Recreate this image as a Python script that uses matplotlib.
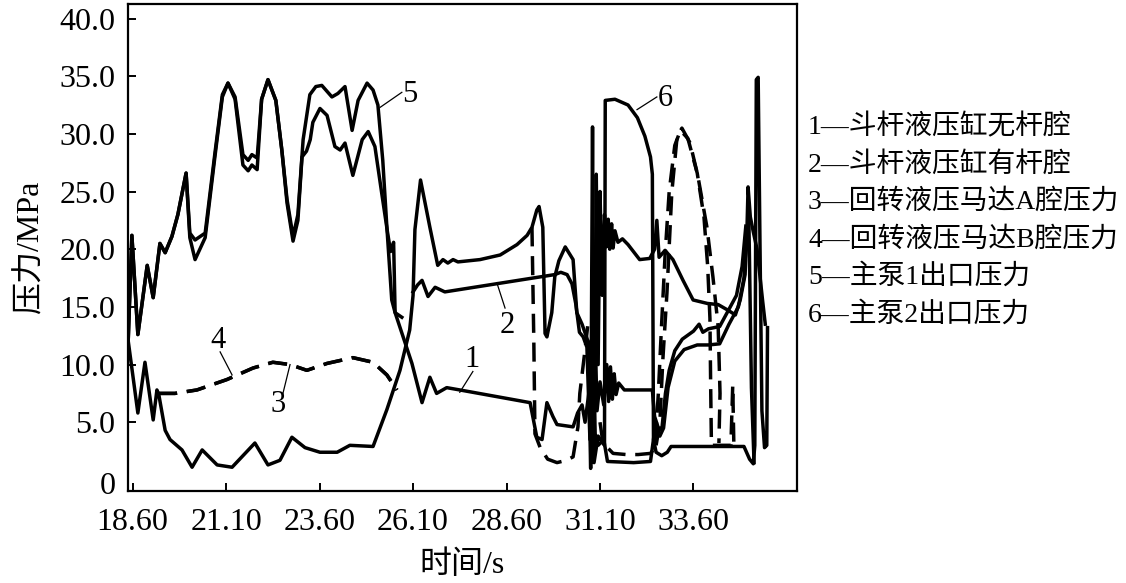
import matplotlib
matplotlib.use("Agg")
import matplotlib.pyplot as plt
import matplotlib.transforms as mtransforms
import numpy as np

plt.rcParams['font.family'] = ['Liberation Serif', 'Noto Sans CJK SC', 'DejaVu Sans']

nan = np.nan

# time (s) / pressure (MPa), nan = gap in the line
t5 = [18.48, 18.58, 18.74, 18.99, 19.15, 19.33, 19.47, 19.65, 19.81, 20.03, 20.13, 20.27, 20.54, 20.80,
      21.00, 21.15, 21.34, 21.55, 21.69, 21.79, 21.93, 22.05, 22.22, 22.43, 22.59, 22.73, 22.89, 23.02,
      23.16, 23.34, 23.50, 23.66, 23.93, 24.09, 24.28, 24.47, 24.63, 24.87, 25.03, 25.16, 25.29, 25.40,
      25.53, 25.62, 25.80, nan,
      30.95, 31.00, 31.05, 31.10, 31.16, 31.22, 31.27, 31.32, 31.36, 31.41, 31.45, 31.50, 31.58, 31.70,
      31.85, 32.16, 32.43, 32.56, 32.62, 32.68, 32.84, 33.05, 33.32, 33.59, 33.97, 34.26, 34.53, 34.72,
      34.85, 34.98, 35.03, 35.06, 35.12, 35.20, 35.30, 35.45, 35.52]
p5 = [11.9, 21.2, 12.6, 18.6, 15.8, 20.5, 19.7, 21.1, 23.0, 26.6, 21.4, 20.8, 21.4, 28.3,
      33.4, 34.4, 33.2, 28.2, 27.7, 28.2, 27.9, 33.0, 34.7, 32.9, 28.6, 24.3, 21.1, 23.0,
      29.5, 33.4, 34.1, 34.2, 33.2, 33.5, 34.1, 30.3, 32.9, 34.4, 33.8, 32.5, 27.7, 21.9,
      15.6, 14.5, 14.1, nan,
      4.0, 26.5, 10.0, 25.0, 16.0, 23.0, 20.2, 22.6, 20.0, 22.2, 20.1, 21.6, 20.6, 20.9,
      20.4, 19.1, 19.2, 20.0, 22.5, 19.3, 19.9, 19.1, 17.3, 15.6, 15.3, 15.2, 14.7, 14.3,
      15.6, 17.8, 21.7, 25.4, 22.8, 21.5, 20.0, 15.5, 13.5]

t1 = [18.48, 18.58, 18.74, 18.99, 19.15, 19.33, 19.47, 19.65, 19.81, 20.03, 20.13, 20.27, 20.54, 20.80,
      21.00, 21.15, 21.34, 21.55, 21.69, 21.79, 21.93, 22.05, 22.22, 22.43, 22.59, 22.73, 22.89, 23.02,
      23.13, 23.25, 23.35, 23.42, 23.61, 23.80, 24.01, 24.15, 24.28, 24.49, 24.74, 24.90, 25.08, 25.26,
      25.42, 25.50, 25.58, 25.62, 26.07, 26.34, 26.55, 26.73, 27.00, 27.35, 29.23, 29.41, 29.55, 29.68,
      29.84, 29.95, 30.38, 30.50, 30.62, 30.70, 30.80, 30.88, 30.96, 31.02, 31.10, 31.20, 31.28, 31.33,
      31.38, 31.43, 31.48, 31.53, 31.60, 31.75, 32.50, 32.56, 32.68, 32.76, 32.85, 32.95, 33.10, 33.30,
      33.60, 33.75, 33.85, 34.00, 34.30, 34.55, 34.75, 34.90, 35.00]
p1 = [11.9, 21.2, 12.6, 18.6, 15.8, 20.5, 19.7, 21.1, 23.0, 26.6, 21.0, 19.1, 21.0, 28.0,
      33.2, 34.4, 33.0, 27.3, 26.8, 27.3, 26.9, 33.0, 34.7, 32.9, 28.6, 24.0, 20.7, 22.5,
      28.0, 28.5, 29.5, 31.0, 32.2, 31.6, 28.9, 28.6, 29.2, 26.4, 29.5, 30.2, 28.9, 24.9,
      21.4, 19.8, 20.6, 14.5, 10.1, 6.7, 8.9, 7.5, 8.0, 7.8, 6.7, 3.7, 3.5, 6.7,
      5.5, 4.8, 4.6, 5.8, 6.5, 5.0, 7.5, 3.0, 14.0, 6.0, 8.5, 6.5, 10.0, 6.8,
      9.8, 7.0, 9.2, 7.4, 8.4, 7.8, 7.8, 5.5, 4.3, 4.6, 7.5, 9.5, 11.2, 12.2,
      12.9, 13.5, 12.8, 13.1, 13.3, 14.8, 16.0, 18.5, 22.0]

t2 = [26.10, 26.22, 26.34, 26.50, 26.69, 26.95, 29.89, 30.05, 30.22, 30.35, 30.45, 30.55, 30.65, 30.75,
      30.83, 30.90, 30.97, 31.05, 31.20, 31.30, 32.00, 32.45, 32.55, 32.70, 32.80, 32.92, 33.10, 33.35,
      33.70, 34.00, 34.30, 34.55, 34.80, 34.95, 35.02, 35.08, 35.15, 35.22]
p2 = [16.3, 16.9, 17.3, 15.9, 16.7, 16.3, 17.8, 18.0, 17.8, 17.0, 15.3, 12.8, 12.4, 11.5,
      3.5, 12.0, 4.0, 3.0, 3.5, 1.6, 1.5, 1.6, 4.0, 3.8, 4.5, 8.0, 10.3, 11.3,
      11.7, 11.7, 11.8, 13.5, 15.0, 17.5, 21.0, 22.8, 8.0, 1.5]

t6 = [18.48, 18.74, 18.93, 19.15, 19.25, 19.30, 19.47, 19.60, 19.92, 20.19, 20.46, 20.86, 21.26, 21.87,
      22.22, 22.54, 22.86, 23.21, 23.61, 24.07, 24.41, 25.03, 25.40, 25.75, 26.01, 26.10, 26.15, 26.30,
      26.55, 26.76, 26.90, 27.03, 27.17, 27.30, 27.89, 28.43, 28.88, 29.15, 29.28, 29.41, 29.47, 29.57,
      29.63, 29.68, 29.81, 29.89, 30.00, 30.17, 30.38, 30.48, 30.62, 30.78, 30.85, 30.90, 30.94, 31.05,
      31.15, 31.22, 31.24, 31.50, 31.85, 32.10, 32.30, 32.45, 32.50, 32.53, 32.60, 32.75, 32.90, 33.00,
      34.95, 35.10, 35.20, 35.24, 35.28, 35.33, 35.38, 35.43, 35.50, 35.56, 35.58]
p6 = [12.1, 5.8, 10.2, 5.2, 7.8, 7.4, 4.3, 3.5, 2.6, 1.1, 2.6, 1.3, 1.1, 3.2,
      1.3, 1.7, 3.7, 2.8, 2.4, 2.4, 3.0, 2.9, 6.1, 9.5, 13.0, 16.0, 21.7, 26.0,
      21.9, 18.6, 19.1, 18.8, 19.1, 18.9, 19.1, 19.5, 20.4, 21.2, 21.9, 23.4, 23.7, 21.9,
      12.7, 12.4, 14.5, 17.6, 19.0, 20.2, 19.1, 14.5, 13.5, 12.0, 1.0, 30.6, 1.5, 3.8,
      3.3, 3.0, 32.9, 33.0, 32.5, 31.4, 29.8, 28.0, 26.5, 3.5, 2.4, 2.1, 2.4, 2.9,
      2.9, 1.8, 1.4, 3.0, 34.7, 34.9, 20.0, 6.0, 2.8, 3.0, 13.2]

t3 = [19.28, 19.73, 20.32, 21.12, 21.82, 22.35, 22.81, 23.26, 23.80, 24.49, 25.03, 25.40, 25.67, nan,
      29.28, 29.33, 29.36, 29.50, 29.70, 29.95, 30.20, 30.38, 30.51, 30.56, 30.70, 30.78, nan,
      32.60, 32.70, 32.78, 32.89, 33.02, 33.16, 33.29, 33.51, 33.72, 33.96, 34.12, 34.26, 34.31, 34.28]
p3 = [7.5, 7.5, 7.8, 8.7, 9.7, 10.2, 10.0, 9.5, 10.1, 10.6, 10.2, 9.1, 7.8, nan,
      21.9, 12.0, 4.0, 2.8, 1.8, 1.5, 1.7, 2.0, 4.6, 7.5, 11.3, 13.6, nan,
      3.0, 4.9, 10.4, 16.2, 24.9, 29.7, 30.5, 29.2, 26.3, 21.9, 17.6, 13.3, 7.5, 3.2]

t4 = [19.28, 19.73, 20.32, 21.12, 21.82, 22.35, 22.81, 23.26, 23.80, 24.49, 25.03, 25.40, 25.67, nan,
      31.10, 31.18, 31.45, 31.80, 32.12, 32.45, 32.57, 32.66, 32.74, 32.84, 32.95, 33.10, 33.25, 33.45,
      33.70, 33.88, 33.98, 34.04, 34.06, 34.08, 34.60, 34.65, 34.68]
p4 = [7.5, 7.5, 7.8, 8.7, 9.7, 10.2, 10.0, 9.5, 10.1, 10.6, 10.2, 9.1, 7.8, nan,
      5.0, 3.2, 2.3, 2.2, 2.2, 2.3, 2.8, 7.5, 13.0, 19.5, 25.0, 29.0, 30.3, 29.6,
      26.6, 22.8, 18.5, 14.0, 8.0, 3.0, 3.0, 8.2, 3.0]

xticks = [18.60, 21.10, 23.60, 26.10, 28.60, 31.10, 33.60]
yticks = [5, 10, 15, 20, 25, 30, 35, 40]
ytick_labels = ['5.0', '10.0', '15.0', '20.0', '25.0', '30.0', '35.0', '40.0']

legend_lines = ['1—斗杆液压缸无杆腔', '2—斗杆液压缸有杆腔', '3—回转液压马达A腔压力',
                '4—回转液压马达B腔压力', '5—主泵1出口压力', '6—主泵2出口压力']

# curve labels: (text, text position, leader start, leader end)
curve_labels = [('5', (26.02, 33.4), (25.80, 33.6), (25.22, 32.3)),
                ('6', (32.84, 33.1), (32.62, 33.2), (32.09, 32.1)),
                ('4', (20.89, 12.1), (20.94, 11.1), (21.26, 9.1)),
                ('3', (22.49, 6.5), (22.62, 7.5), (22.81, 10.0)),
                ('2', (28.61, 13.4), (28.56, 14.9), (28.34, 17.1)),
                ('1', (27.67, 10.4), (27.70, 9.4), (27.35, 7.6))]

fig = plt.figure(figsize=(11.26, 5.83), dpi=100)
ax = fig.add_axes([0.1137, 0.158, 0.594, 0.835])

lw = 2.5
for t, p in [(t1, p1), (t2, p2), (t5, p5), (t6, p6)]:
    ax.plot(t, p, color='black', lw=lw, solid_joinstyle='round')
for t, p in [(t3, p3), (t4, p4)]:
    ax.plot(t, p, color='black', lw=lw, dashes=(5.5, 2.8))

for txt, pos, a, b in curve_labels:
    ax.plot([a[0], b[0]], [a[1], b[1]], color='black', lw=0.9)
    ax.text(pos[0], pos[1], txt, fontsize=22, ha='center', va='center')

ybottom = -0.95
ax.set_xlim(18.477, 36.365)
ax.set_ylim(ybottom, 41.25)
ax.set_xticks(xticks)
ax.set_xticklabels(['%.2f' % v for v in xticks])
ax.set_yticks(yticks)
ax.set_yticklabels(ytick_labels)
ax.tick_params(direction='in', length=6, width=1.4, labelsize=23)
ax.tick_params(axis='x', pad=12)
ax.tick_params(axis='y', pad=9)
for s in ax.spines.values():
    s.set_linewidth(1.6)

# the "0" label sits at the bottom corner of the frame in the original
trans = mtransforms.blended_transform_factory(ax.transAxes, ax.transData)
ax.text(-0.0187, -0.55, '0', transform=trans, fontsize=23, ha='right', va='center')

ax.set_xlabel('时间/s', fontsize=23, labelpad=10)
ax.set_ylabel('压力/MPa', fontsize=23, labelpad=10)

for i, line in enumerate(legend_lines):
    fig.text(0.7176, 1 - (127 + 37.5 * i) / 583, line, fontsize=20, va='center', ha='left')

fig.savefig('out.png', dpi=100)
